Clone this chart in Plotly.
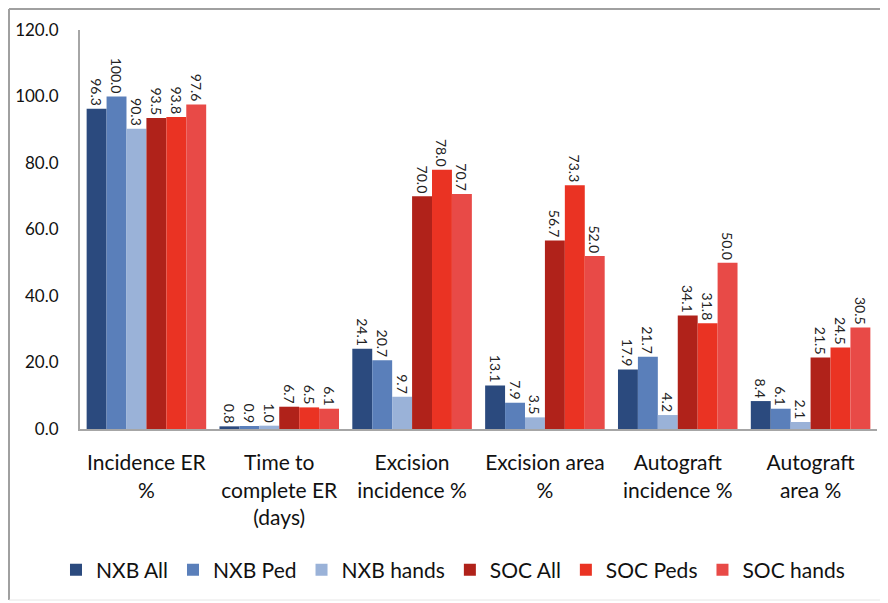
import plotly.graph_objects as go

categories = ["Incidence ER<br>%", "Time to<br>complete ER<br>(days)", "Excision<br>incidence %",
              "Excision area<br>%", "Autograft<br>incidence %", "Autograft<br>area %"]
series_names = ["NXB All", "NXB Ped", "NXB hands", "SOC All", "SOC Peds", "SOC hands"]
nxb_all = [96.3, 0.8, 24.1, 13.1, 17.9, 8.4]
nxb_ped = [100.0, 0.9, 20.7, 7.9, 21.7, 6.1]
nxb_hands = [90.3, 1.0, 9.7, 3.5, 4.2, 2.1]
soc_all = [93.5, 6.7, 70.0, 56.7, 34.1, 21.5]
soc_peds = [93.8, 6.5, 78.0, 73.3, 31.8, 24.5]
soc_hands = [97.6, 6.1, 70.7, 52.0, 50.0, 30.5]
colors = ["#2b4a7e", "#5a7fba", "#9ab2d8", "#b0221a", "#ea3323", "#e84a47"]

values = [nxb_all, nxb_ped, nxb_hands, soc_all, soc_peds, soc_hands]

fig = go.Figure()
for name, vals, col in zip(series_names, values, colors):
    fig.add_trace(go.Bar(
        x=categories, y=vals, name=name,
        marker=dict(color=col, line=dict(width=0)),
        text=[f"{v:.1f}" for v in vals],
        textposition="outside", textangle=90, constraintext="none",
        textfont=dict(size=14, color="#222222", family="Lato"),
        cliponaxis=False,
    ))

# page body has an 8px margin; figure coords = image coords - 8
W, H = 880, 595
L, R, T, B = 72, 11, 22, 174
pw, ph = W - L - R, H - T - B

fig.update_layout(
    width=W, height=H,
    margin=dict(l=L, r=R, t=T, b=B, autoexpand=False),
    paper_bgcolor="white", plot_bgcolor="white",
    barmode="group", bargap=0.1, bargroupgap=0,
    font=dict(family="Lato", color="#111111"),
    legend=dict(orientation="h", x=0.468, xanchor="center", y=-(562 - (H - B)) / ph, yanchor="middle",
                font=dict(size=21), traceorder="normal", itemwidth=30,
                tracegroupgap=0),
    showlegend=True,
)
fig.update_xaxes(
    showline=True, linecolor="#a6a6a6", linewidth=2,
    tickfont=dict(size=21, color="#111111"),
    ticks="", ticklabelstandoff=14, automargin=False,
)
fig.update_yaxes(
    range=[0, 120], dtick=20, tickformat=".1f",
    showline=True, linecolor="#a6a6a6", linewidth=2,
    showgrid=False, zeroline=False,
    tickfont=dict(size=17, color="#111111"),
    ticks="", ticklabelstandoff=16, automargin=False,
)
# outer frame
fx0 = (1 - L) / pw
fy1 = 1 + (T - 1) / ph
fy0 = -(592 - (H - B)) / ph
fig.add_shape(type="line", xref="paper", yref="paper", x0=fx0, x1=fx0, y0=fy0, y1=fy1,
              line=dict(color="#a0a0a0", width=2))
fig.add_shape(type="line", xref="paper", yref="paper", x0=fx0, x1=1 + R / pw, y0=fy1, y1=fy1,
              line=dict(color="#a0a0a0", width=2))
fig.add_shape(type="line", xref="paper", yref="paper", x0=fx0, x1=1 + R / pw, y0=fy0, y1=fy0,
              line=dict(color="#e6e6e6", width=1))

fig.write_html("out.html")
